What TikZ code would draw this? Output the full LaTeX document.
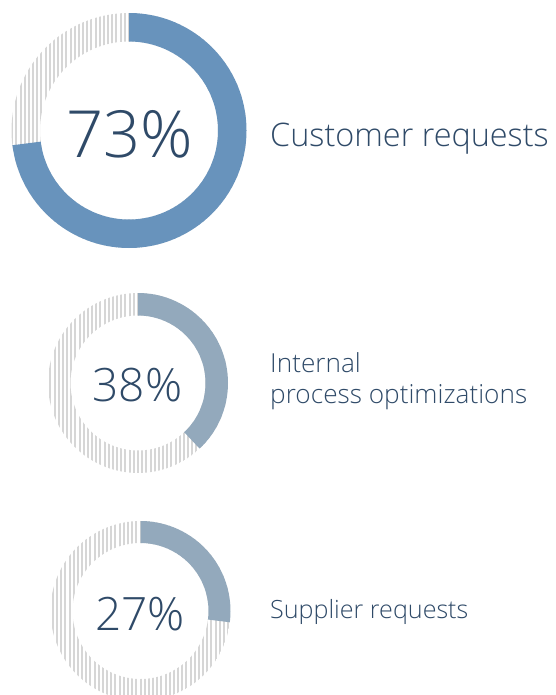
\documentclass[tikz,border=0pt]{standalone}
\usepackage{fontspec}
\setmainfont{Open Sans}[UprightFont={* Light}]
\definecolor{txt}{HTML}{2F4A68}
\definecolor{blueA}{HTML}{6893BC}
\definecolor{blueB}{HTML}{93A9BC}
\definecolor{hatchgray}{HTML}{D6D6D6}
\newcommand\myring[6]{%
 \begin{scope}[shift={(#1,#2)}]
  \begin{scope}[even odd rule]
   \clip (0,0) circle[radius=#3] (0,0) circle[radius=#4];
   \foreach \k in {-30,...,30} \draw[hatchgray, line width=2] (\k*4.17, -#3) -- (\k*4.17, #3);
  \end{scope}
  \fill[#6] (90:#3) arc[start angle=90, delta angle={-3.6*#5}, radius=#3]
    -- ({90-3.6*#5}:#4) arc[start angle={90-3.6*#5}, delta angle={3.6*#5}, radius=#4] -- cycle;
 \end{scope}}
\tikzset{
  pct/.style={text=txt, inner sep=0, anchor=center},
  lbl/.style={text=txt, inner sep=0, anchor=base west}
}
\begin{document}
\begin{tikzpicture}[x=1pt,y=1pt]
\useasboundingbox (0,0) rectangle (555,-695);
\clip (0,0) rectangle (555,-695);
\myring{129}{-130.5}{117.5}{89}{73}{blueA}
\myring{138}{-383}{90}{67.5}{38}{blueB}
\myring{140.5}{-611}{90}{68}{27}{blueB}
\node[pct, font=\fontsize{65}{70}\selectfont] (p1) at (130,-134) {73\%};
\node[pct, font=\fontsize{46}{50}\selectfont] (p2) at (137.5,-385) {38\%};
\node[pct, font=\fontsize{46}{50}\selectfont] (p3) at (140,-614) {27\%};
\node[lbl, font=\fontsize{32.4}{36}\selectfont] (l1) at (270,-147) {Customer requests};
\node[lbl, font=\fontsize{26.2}{30}\selectfont] (l2a) at (270,-372) {Internal};
\node[lbl, font=\fontsize{26.2}{30}\selectfont] (l2b) at (270,-403) {process optimizations};
\node[lbl, font=\fontsize{25.1}{30}\selectfont] (l3) at (270,-618) {Supplier requests};
\end{tikzpicture}
\end{document}
